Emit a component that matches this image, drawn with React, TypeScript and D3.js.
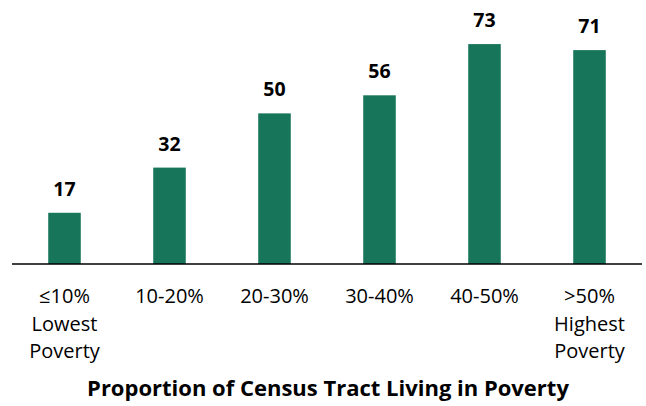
import React from 'react';
import * as d3 from 'd3';

const categories = ['≤10%|Lowest|Poverty', '10-20%', '20-30%', '30-40%', '40-50%', '>50%|Highest|Poverty'];
const values = [17, 32, 50, 56, 73, 71];
const axisTitle = 'Proportion of Census Tract Living in Poverty';

const W = 646;
const H = 406;
const baseY = 264;

export default function App() {
  const x = d3.scaleBand<string>()
    .domain(categories)
    .range([12, 642])
    .paddingInner(0.69)
    .paddingOuter(0.345);

  const y = d3.scaleLinear().domain([0, 80]).range([baseY, 23]);

  const font = '"Open Sans", sans-serif';

  return (
    <svg width={W} height={H} style={{ position: 'absolute', left: 0, top: 0, background: '#fff' }}>
      {categories.map((c, i) => {
        const bx = x(c)!;
        const bw = x.bandwidth();
        const top = y(values[i]);
        return (
          <g key={c}>
            <rect x={bx} y={top} width={bw} height={baseY - top} fill="#17755a" />
            <text x={bx + bw / 2} y={top - 17} textAnchor="middle" fontFamily={font}
              fontWeight="bold" fontSize={19.5} fill="#000">{values[i]}</text>
            {c.split('|').map((line, j) => (
              <text key={j} x={bx + bw / 2} y={303 + j * 27.5} textAnchor="middle"
                fontFamily={font} fontSize={20} fill="#000">{line}</text>
            ))}
          </g>
        );
      })}
      <line x1={12} x2={642} y1={baseY} y2={baseY} stroke="#000" strokeWidth={1.5} />
      <text x={328} y={396} textAnchor="middle" fontFamily={font} fontWeight="bold"
        fontSize={22} fill="#000">{axisTitle}</text>
    </svg>
  );
}
